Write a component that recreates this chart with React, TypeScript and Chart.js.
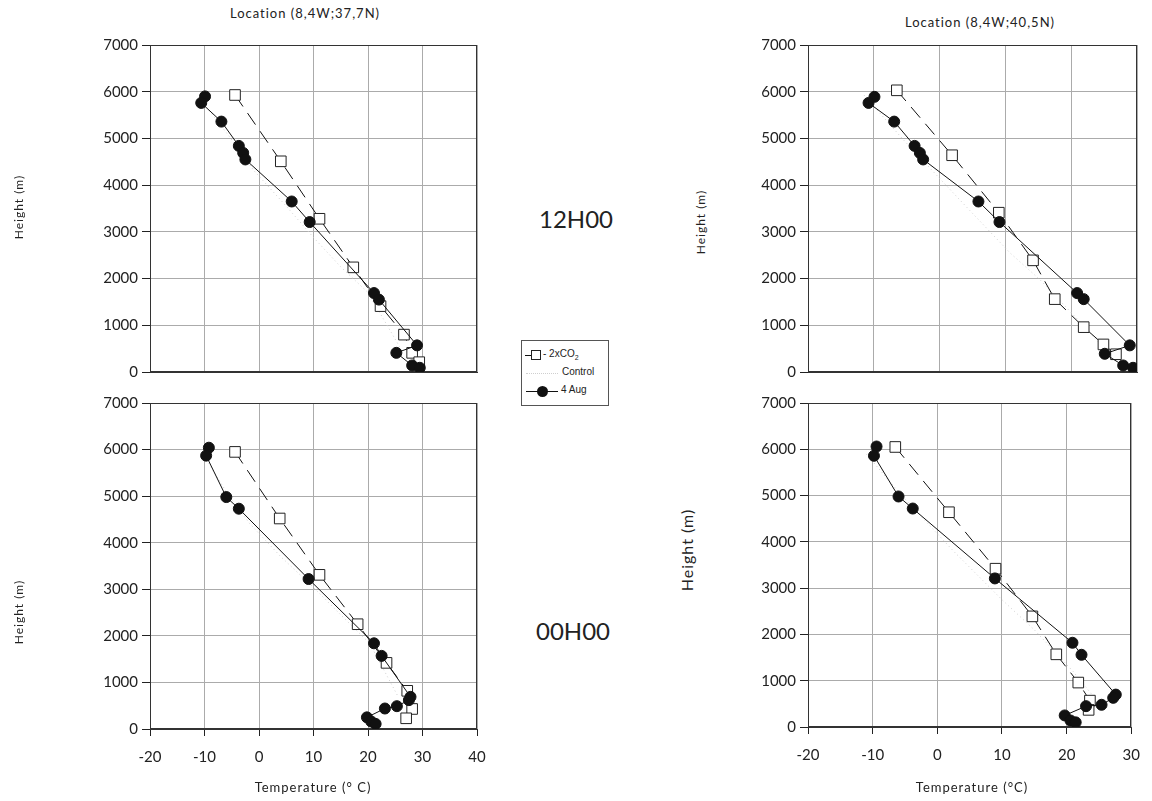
import React, { useEffect, useRef } from "react";
import { Chart, registerables } from "chart.js";
Chart.register(...registerables);

// ---- Data (temperature °C, height m) ----
// Top-left: 12H00, Location (8,4W;37,7N)
const tlObsT = [-9.9, -10.6, -6.9, -3.7, -2.9, -2.5, 6.0, 9.3, 21.1, 22.0, 29.0, 25.2, 28.1, 29.5];
const tlObsH = [5900, 5760, 5360, 4840, 4690, 4550, 3650, 3210, 1690, 1550, 570, 410, 140, 90];
const tlCo2T = [-4.4, 4.0, 11.1, 17.3, 22.3, 26.6, 28.1, 29.4];
const tlCo2H = [5930, 4510, 3280, 2240, 1410, 800, 410, 210];
const tlCtlT = [-10.5, -5.5, -1.0, 5.0, 10.0, 15.0, 20.0, 25.8];
const tlCtlH = [5800, 5050, 4320, 3550, 2880, 2250, 1700, 540];

// Top-right: 12H00, Location (8,4W;40,5N)
const trObsT = [-9.9, -10.8, -6.9, -3.8, -3.0, -2.5, 5.9, 9.1, 20.9, 21.9, 28.9, 25.1, 27.9, 29.4];
const trObsH = [5890, 5760, 5360, 4840, 4690, 4550, 3650, 3210, 1690, 1560, 570, 390, 140, 90];
const trCo2T = [-6.5, 1.9, 9.0, 14.2, 17.5, 21.9, 24.9, 26.8];
const trCo2H = [6030, 4640, 3410, 2390, 1560, 960, 590, 380];
const trCtlT = [-11.5, -5.5, 3.1, 10.7, 15.3, 22.5, 25.0];
const trCtlH = [5930, 4970, 3680, 2550, 1970, 900, 500];

// Bottom-left: 00H00, Location (8,4W;37,7N)
const blObsT = [-9.2, -9.7, -6.0, -3.7, 9.1, 21.1, 22.5, 27.8, 27.5, 25.3, 23.1, 19.8, 20.6, 21.4];
const blObsH = [6040, 5870, 4980, 4730, 3220, 1840, 1570, 690, 620, 490, 440, 250, 160, 110];
const blCo2T = [-4.4, 3.8, 11.1, 18.1, 23.4, 27.2, 28.1, 27.0];
const blCo2H = [5950, 4520, 3310, 2250, 1420, 820, 430, 230];
const blCtlT = [-10.0, -5.5, -1.7, 4.0, 9.9, 15.0, 20.3, 25.5];
const blCtlH = [5850, 5000, 4410, 3700, 3050, 2450, 1840, 700];

// Bottom-right: 00H00, Location (8,4W;40,5N)
const brObsT = [-9.4, -9.8, -6.0, -3.8, 8.9, 20.9, 22.3, 27.6, 27.2, 25.4, 23.0, 19.7, 20.6, 21.4];
const brObsH = [6060, 5860, 4980, 4720, 3210, 1820, 1560, 700, 630, 480, 450, 250, 140, 100];
const brCo2T = [-6.5, 1.8, 9.0, 14.7, 18.4, 21.8, 23.6, 23.4];
const brCo2H = [6050, 4640, 3420, 2390, 1570, 960, 570, 370];
const brCtlT = [-11.0, -5.5, 2.5, 10.0, 15.0, 21.0, 24.5];
const brCtlH = [5900, 5000, 3800, 2750, 2100, 1200, 600];

const yTicks = [0, 1000, 2000, 3000, 4000, 5000, 6000, 7000];
const seriesLabels = ["4 Aug", "2xCO2", "Control"];

const FONT = "Lato, 'DejaVu Sans', sans-serif";

function pts(t: number[], h: number[]) {
  return t.map((v, i) => ({ x: v, y: h[i] }));
}

const boxPlugin = {
  id: "frameBox",
  beforeDatasetsDraw(chart: any) {
    const { ctx, chartArea: a } = chart;
    ctx.save();
    ctx.strokeStyle = "#333";
    ctx.lineWidth = 1;
    ctx.strokeRect(Math.round(a.left) + 0.5, Math.round(a.top) + 0.5, Math.round(a.right - a.left) - 1, Math.round(a.bottom - a.top) - 1);
    ctx.restore();
  },
};

type PanelProps = {
  obsT: number[]; obsH: number[]; co2T: number[]; co2H: number[]; ctlT: number[]; ctlH: number[];
  xMax: number; showX: boolean;
  left: number; top: number; width: number; height: number;
  padTop: number; padRight: number; yWidth: number; xHeight: number;
};

function Panel(p: PanelProps) {
  const ref = useRef<HTMLCanvasElement>(null);
  useEffect(() => {
    if (!ref.current) return;
    const chart = new Chart(ref.current, {
      type: "scatter",
      data: {
        datasets: [
          {
            label: seriesLabels[0],
            data: pts(p.obsT, p.obsH),
            showLine: true,
            borderColor: "#111",
            borderWidth: 1,
            backgroundColor: "#111",
            pointBackgroundColor: "#111",
            pointBorderColor: "#111",
            pointRadius: 5.5,
            pointStyle: "circle",
          },
          {
            label: seriesLabels[1],
            data: pts(p.co2T, p.co2H),
            showLine: true,
            borderColor: "#111",
            borderWidth: 1,
            borderDash: [14, 8],
            pointBackgroundColor: "#fff",
            pointBorderColor: "#222",
            pointBorderWidth: 1,
            pointRadius: 7.5,
            pointStyle: "rect",
          },
          {
            label: seriesLabels[2],
            data: pts(p.ctlT, p.ctlH),
            showLine: true,
            borderColor: "#cfcfcf",
            borderWidth: 1,
            borderDash: [1, 3],
            pointRadius: 0,
          },
        ],
      },
      options: {
        animation: false,
        responsive: false,
        maintainAspectRatio: false,
        layout: { padding: { left: 0, top: p.padTop, right: p.padRight, bottom: 0 } },
        plugins: { legend: { display: false }, tooltip: { enabled: false }, title: { display: false } },
        scales: {
          x: {
            type: "linear",
            min: -20,
            max: p.xMax,
            afterFit: (s: any) => { s.height = p.xHeight; },
            ticks: {
              stepSize: 10,
              display: p.showX,
              padding: 12,
              color: "#222",
              font: { family: FONT, size: 15 },
              callback: (v: any) => String(v),
            },
            grid: {
              color: "#ababab",
              lineWidth: 1,
              drawTicks: p.showX,
              tickLength: 7,
              tickColor: "#222",
            },
            border: { display: true, color: "#333", width: 1 },
          },
          y: {
            type: "linear",
            min: 0,
            max: 7000,
            afterFit: (s: any) => { s.width = p.yWidth; },
            afterBuildTicks: (s: any) => { s.ticks = yTicks.map((v) => ({ value: v })); },
            ticks: {
              padding: 4,
              color: "#222",
              font: { family: FONT, size: 15 },
              callback: (v: any) => String(v),
            },
            grid: {
              color: "#ababab",
              lineWidth: 1,
              drawTicks: true,
              tickLength: 8,
              tickColor: "#222",
            },
            border: { display: true, color: "#333", width: 1 },
          },
        },
      },
      plugins: [boxPlugin],
    } as any);
    return () => chart.destroy();
  }, []);
  return (
    <canvas
      ref={ref}
      width={p.width}
      height={p.height}
      style={{ position: "absolute", left: p.left, top: p.top, width: p.width, height: p.height, display: "block" }}
    />
  );
}

const txt = (extra: React.CSSProperties): React.CSSProperties => ({
  position: "absolute",
  fontFamily: FONT,
  color: "#222",
  whiteSpace: "nowrap",
  ...extra,
});

function VTitle({ x, y, size, text }: { x: number; y: number; size: number; text: string }) {
  return (
    <div style={txt({ left: x, top: y, fontSize: size, transform: "translate(-50%, -50%) rotate(-90deg)", letterSpacing: 1 })}>
      {text}
    </div>
  );
}

function Center({ x, y, size, text, spacing = 0 }: { x: number; y: number; size: number; text: React.ReactNode; spacing?: number }) {
  return (
    <div style={txt({ left: x, top: y, fontSize: size, transform: "translate(-50%, -50%)", letterSpacing: spacing })}>
      {text}
    </div>
  );
}

function Legend() {
  const row = (y: number): React.CSSProperties => ({ position: "absolute", left: 0, top: y, width: 87, height: 16 });
  return (
    <div style={{ position: "absolute", left: 521, top: 340, width: 86, height: 64, border: "1px solid #555", background: "#fff" }}>
      <div style={row(6)}>
        <div style={{ position: "absolute", left: 3, top: 8, width: 7, height: 1, background: "#111" }} />
        <div style={{ position: "absolute", left: 9, top: 3, width: 8, height: 8, border: "1px solid #222", background: "#fff" }} />
        <div style={txt({ left: 21, top: 1, fontSize: 10, fontFamily: "'Liberation Sans', Arial, sans-serif" })}>
          - 2xCO<sub style={{ fontSize: 7 }}>2</sub>
        </div>
      </div>
      <div style={row(24)}>
        <div style={{ position: "absolute", left: 4, top: 8, width: 32, height: 0, borderTop: "1px dotted #cfcfcf" }} />
        <div style={txt({ left: 40, top: 1, fontSize: 10, fontFamily: "'Liberation Sans', Arial, sans-serif" })}>Control</div>
      </div>
      <div style={row(43)}>
        <div style={{ position: "absolute", left: 4, top: 7, width: 32, height: 1, background: "#111" }} />
        <div style={{ position: "absolute", left: 15, top: 2, width: 11, height: 11, borderRadius: "50%", background: "#111" }} />
        <div style={txt({ left: 39, top: 0, fontSize: 10, fontFamily: "'Liberation Sans', Arial, sans-serif" })}>4 Aug</div>
      </div>
    </div>
  );
}

export default function App() {
  return (
    <div style={{ position: "absolute", left: 0, top: 0, width: 1152, height: 801, background: "#fff", overflow: "hidden" }}>
      <Center x={305} y={13} size={13} spacing={1} text="Location (8,4W;37,7N)" />
      <Center x={980} y={22} size={13} spacing={1} text="Location (8,4W;40,5N)" />

      <Panel obsT={tlObsT} obsH={tlObsH} co2T={tlCo2T} co2H={tlCo2H} ctlT={tlCtlT} ctlH={tlCtlH}
        xMax={40} showX={false} left={0} top={30} width={500} height={360}
        padTop={15} padRight={23} yWidth={150} xHeight={18} />
      <Panel obsT={trObsT} obsH={trObsH} co2T={trCo2T} co2H={trCo2H} ctlT={trCtlT} ctlH={trCtlH}
        xMax={30} showX={false} left={740} top={30} width={412} height={360}
        padTop={15} padRight={15} yWidth={68} xHeight={18} />
      <Panel obsT={blObsT} obsH={blObsH} co2T={blCo2T} co2H={blCo2H} ctlT={blCtlT} ctlH={blCtlH}
        xMax={40} showX={true} left={0} top={390} width={500} height={400}
        padTop={13} padRight={23} yWidth={150} xHeight={61} />
      <Panel obsT={brObsT} obsH={brObsH} co2T={brCo2T} co2H={brCo2H} ctlT={brCtlT} ctlH={brCtlH}
        xMax={30} showX={true} left={740} top={390} width={412} height={400}
        padTop={10} padRight={16} yWidth={68} xHeight={63} />

      <VTitle x={18} y={207} size={12} text="Height (m)" />
      <VTitle x={18} y={612} size={12} text="Height (m)" />
      <VTitle x={700} y={222} size={12} text="Height (m)" />
      <VTitle x={686} y={550} size={16} text="Height (m)" />

      <Center x={576} y={218} size={24} text="12H00" />
      <Center x={573} y={630} size={24} text="00H00" />

      <Center x={313} y={787} size={13} spacing={1} text="Temperature (° C)" />
      <Center x={972} y={787} size={13} spacing={1} text="Temperature (°C)" />

      <Legend />
    </div>
  );
}
